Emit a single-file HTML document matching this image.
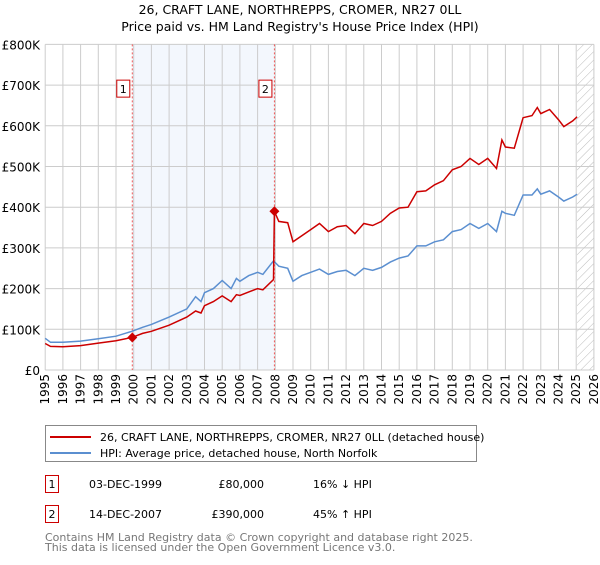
<!DOCTYPE html>
<html><head><meta charset="utf-8"><style>
body{margin:0;background:#fff;font-family:"Liberation Sans","DejaVu Sans",sans-serif}
svg text{font-family:"DejaVu Sans","Liberation Sans",sans-serif}
</style></head><body>
<svg width="600" height="560" xmlns="http://www.w3.org/2000/svg" id="chart">
<defs><pattern id="hatch" width="6" height="6" patternUnits="userSpaceOnUse" patternTransform="rotate(45)"><line x1="0" y1="0" x2="0" y2="6" stroke="#bbb" stroke-width="1"/></pattern></defs>
<text x="300" y="14" text-anchor="middle" font-size="12.5">26, CRAFT LANE, NORTHREPPS, CROMER, NR27 0LL</text>
<text x="300" y="31" text-anchor="middle" font-size="12.5">Price paid vs. HM Land Registry's House Price Index (HPI)</text>
<g id="plot"></g>
<g>
<rect x="45.5" y="425.5" width="431" height="36" fill="#fff" stroke="#888"/>
<line x1="50" y1="437" x2="91" y2="437" stroke="#cc0000" stroke-width="2"/>
<text x="100" y="441" font-size="11">26, CRAFT LANE, NORTHREPPS, CROMER, NR27 0LL (detached house)</text>
<line x1="50" y1="453" x2="91" y2="453" stroke="#5b8fd0" stroke-width="2"/>
<text x="100" y="457" font-size="11">HPI: Average price, detached house, North Norfolk</text>
</g>
<g font-size="11">
<rect x="45.5" y="475.5" width="13" height="17" fill="#fff" stroke="#cc0000"/>
<text x="52" y="488" text-anchor="middle">1</text>
<text x="89" y="488">03-DEC-1999</text><text x="264" y="488" text-anchor="end">£80,000</text><text x="313" y="488">16% ↓ HPI</text>
<rect x="45.5" y="505.5" width="13" height="17" fill="#fff" stroke="#cc0000"/>
<text x="52" y="518" text-anchor="middle">2</text>
<text x="89" y="518">14-DEC-2007</text><text x="264" y="518" text-anchor="end">£390,000</text><text x="313" y="518">45% ↑ HPI</text>
</g>
<text x="45" y="541" font-size="11" fill="#777">Contains HM Land Registry data © Crown copyright and database right 2025.</text>
<text x="45" y="551" font-size="11" fill="#777">This data is licensed under the Open Government Licence v3.0.</text>
</svg>
<script>
const yTicks=[0,100,200,300,400,500,600,700,800];
const yearTicks=[1995,1996,1997,1998,1999,2000,2001,2002,2003,2004,2005,2006,2007,2008,2009,2010,2011,2012,2013,2014,2015,2016,2017,2018,2019,2020,2021,2022,2023,2024,2025,2026];
const hpiT=[1995,1995.3,1996,1997,1998,1999,1999.9,2000.5,2001,2002,2003,2003.5,2003.8,2004,2004.5,2005,2005.5,2005.8,2006,2006.5,2007,2007.3,2007.9,2008.2,2008.7,2009,2009.5,2010,2010.5,2011,2011.5,2012,2012.5,2013,2013.5,2014,2014.5,2015,2015.5,2016,2016.5,2017,2017.5,2018,2018.5,2019,2019.5,2020,2020.5,2020.8,2021,2021.5,2022,2022.5,2022.8,2023,2023.5,2024,2024.3,2024.8,2025.05];
const hpiV=[78,68,68,71,77,83,95,105,112,130,150,180,168,190,200,220,200,225,218,232,240,235,268,255,250,218,232,240,248,235,242,245,232,250,245,252,265,275,280,305,305,315,320,340,345,360,348,360,340,390,385,380,430,430,445,432,440,425,415,425,432];
const redT=[1995,1995.3,1996,1997,1998,1999,1999.9,2000.5,2001,2002,2003,2003.5,2003.8,2004,2004.5,2005,2005.5,2005.8,2006,2006.5,2007,2007.3,2007.9,2007.95,2008.2,2008.7,2009,2009.5,2010,2010.5,2011,2011.5,2012,2012.5,2013,2013.5,2014,2014.5,2015,2015.5,2016,2016.5,2017,2017.5,2018,2018.5,2019,2019.5,2020,2020.5,2020.8,2021,2021.5,2022,2022.5,2022.8,2023,2023.5,2024,2024.3,2024.8,2025.05];
const redV=[65,58,57,60,66,72,80,90,95,110,130,145,140,158,168,182,168,185,183,192,200,197,222,390,365,362,315,330,345,360,340,352,355,335,360,355,365,385,398,400,438,440,455,465,492,500,520,505,520,495,565,548,545,620,625,645,630,640,615,598,612,622];
const saleT=[1999.92,2007.95];
const saleV=[80,390];
const NS="http://www.w3.org/2000/svg";
const X0=45.2,YW=17.7,Y0=370,YS=0.407;
const x=t=>X0+(t-1995)*YW;
const y=v=>Y0-v*YS;
const plot=document.getElementById('plot');
function mk(tag,attrs,parent){const e=document.createElementNS(NS,tag);for(const k in attrs)e.setAttribute(k,attrs[k]);(parent||plot).appendChild(e);return e;}
const bg=mk('rect',{x:x(saleT[0]),y:y(800),width:x(saleT[1])-x(saleT[0]),height:y(0)-y(800),fill:'#eef3fc',opacity:0.7});


const hat=mk('rect',{x:x(2025.05),y:y(800),width:x(2026)-x(2025.05),height:y(0)-y(800),fill:'url(#hatch)'});


yTicks.forEach(v=>{
 const g=mk('line',{x1:X0,x2:x(2026),y1:y(v),y2:y(v),stroke:'#ccc','stroke-width':1});
 
 
 const t=mk('text',{x:40,y:y(v)+5,'text-anchor':'end','font-size':12});
 t.textContent=v===0?'£0':'£'+v+'K';
 
 
});
yearTicks.forEach(yr=>{
 const g=mk('line',{x1:x(yr),x2:x(yr),y1:y(800),y2:y(0),stroke:'#ccc','stroke-width':1});
 
 
 const t=mk('text',{x:0,y:0,'text-anchor':'end','font-size':12,transform:`translate(${x(yr)+4},374) rotate(-90)`});
 t.textContent=yr;
 
 
});
saleT.forEach((t,i)=>{
 const l=mk('line',{x1:x(t),x2:x(t),y1:y(800),y2:y(0),stroke:'#e55','stroke-width':1,'stroke-dasharray':'2,2'});
 
 
 const r=mk('rect',{x:x(t)-15.5,y:y(695)-7,width:13,height:17,fill:'#fff',stroke:'#cc0000'});
 
 
 const tx=mk('text',{x:x(t)-9,y:y(695)+6,'text-anchor':'middle','font-size':11});
 tx.textContent=String(i+1);
 
 
});
const pts=(T,V)=>T.map((t,i)=>x(t).toFixed(1)+','+y(V[i]).toFixed(1)).join(' ');
const hl=mk('polyline',{points:pts(hpiT,hpiV),fill:'none',stroke:'#5b8fd0','stroke-width':1.5});


const rl=mk('polyline',{points:pts(redT,redV),fill:'none',stroke:'#cc0000','stroke-width':1.5});


saleT.forEach((t,i)=>{
 const cx=x(t),cy=y(saleV[i]);
 const d=mk('polygon',{points:`${cx},${cy-5} ${cx+5},${cy} ${cx},${cy+5} ${cx-5},${cy}`,fill:'#cc0000'});
 
 
});
</script>
</body></html>
